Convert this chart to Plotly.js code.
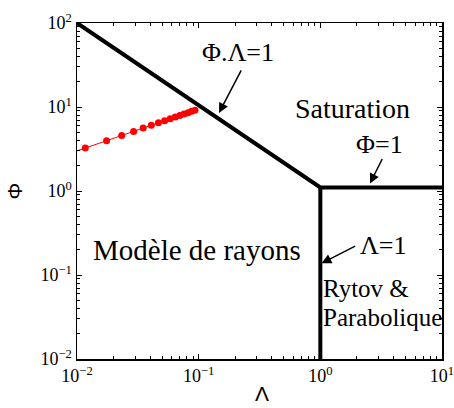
<!DOCTYPE html>
<html>
<head>
<meta charset="utf-8">
<script src="https://cdn.plot.ly/plotly-3.0.1.min.js"></script>
<style>html,body{margin:0;padding:0;background:#fff}#chart{width:454px;height:408px}</style>
</head>
<body>
<div id="chart"></div>
<script>
// Regime boundaries
var boundX = [0.01, 1, 10];
var boundY = [100, 1.1, 1.1];
var rytovX = [1, 1];
var rytovY = [1.1, 0.01];
// Measured points (Lambda, Phi)
var lambdaPts = [0.0117, 0.0175, 0.0233, 0.0292, 0.035, 0.0408, 0.0467, 0.0525, 0.0583, 0.0642, 0.07, 0.0758, 0.0817, 0.0875, 0.0933];
var phiPts = [3.24, 3.97, 4.58, 5.12, 5.61, 6.06, 6.48, 6.87, 7.24, 7.6, 7.94, 8.26, 8.57, 8.87, 9.16];
// Trend line
var trendX = [0.01, 0.0933];
var trendY = [3.0, 9.16];
// Ticks
var xTickVals = [0.01, 0.1, 1, 10];
var xTickText = ['10<sup>\u22122</sup>', '10<sup>\u22121</sup>', '10<sup>0</sup>', '10<sup>1</sup>'];
var yTickVals = [0.01, 0.1, 1, 10, 100];
var yTickText = ['10<sup>\u22122</sup>', '10<sup>\u22121</sup>', '10<sup>0</sup>', '10<sup>1</sup>', '10<sup>2</sup>'];

function minors(lo, hi) {
  var out = [];
  for (var e = lo; e < hi; e++) for (var m = 2; m <= 9; m++) out.push(m * Math.pow(10, e));
  return out;
}

var serif = 'Liberation Serif, Times New Roman, serif';
var sans = 'Liberation Sans, Arial, sans-serif';

var traces = [
  {x: boundX, y: boundY, mode: 'lines', line: {color: 'black', width: 4}, hoverinfo: 'skip'},
  {x: rytovX, y: rytovY, mode: 'lines', line: {color: 'black', width: 4}, hoverinfo: 'skip'},
  {x: trendX, y: trendY, mode: 'lines', line: {color: 'red', width: 1}, hoverinfo: 'skip'},
  {x: lambdaPts, y: phiPts, mode: 'markers', marker: {color: 'red', size: 7}}
];

function axisBase() {
  return {
    type: 'log', showgrid: false, zeroline: false,
    showline: true, linecolor: 'black', linewidth: 1.5, mirror: 'allticks',
    ticks: 'inside', ticklen: 5, tickwidth: 1, tickcolor: 'black',
    tickmode: 'array', ticklabeloverflow: 'allow',
    tickfont: {family: serif, size: 18, color: 'black'},
    minor: {ticks: 'inside', ticklen: 3, tickwidth: 1, tickcolor: 'black'}
  };
}
var xa = axisBase();
xa.range = [-2, 1]; xa.tickvals = xTickVals; xa.ticktext = xTickText;
xa.minor.tickvals = minors(-2, 1);
var ya = axisBase();
ya.range = [-2, 2]; ya.tickvals = yTickVals; ya.ticktext = yTickText;
ya.minor.tickvals = minors(-2, 2);
ya.title = {text: '\u03A6', font: {family: sans, size: 21, color: 'black'}, standoff: 12};

function txt(t, lx, ly, size, xanchor) {
  return {x: lx, y: ly, xref: 'x', yref: 'y', text: t, showarrow: false,
    xanchor: xanchor || 'center', yanchor: 'middle',
    font: {family: serif, size: size, color: 'black'}};
}
function arr(lx, ly, ax, ay) {
  return {x: lx, y: ly, xref: 'x', yref: 'y', text: '', showarrow: true,
    ax: ax, ay: ay, arrowhead: 2, arrowsize: 1.3, arrowwidth: 1.5, arrowcolor: 'black'};
}

var layout = {
  width: 454, height: 408,
  margin: {l: 77, r: 12, t: 23, b: 49},
  paper_bgcolor: 'white', plot_bgcolor: 'white',
  showlegend: false,
  xaxis: xa, yaxis: ya,
  annotations: [
    txt('\u03A6.\u039B=1', -0.677, 1.643, 26),
    arr(-0.833, 0.929, 23, -44),
    txt('Saturation', 0.268, 0.988, 28),
    txt('\u03A6=1', 0.49, 0.548, 26),
    arr(0.408, 0.089, 13, -26),
    txt('\u039B=1', 0.523, -0.643, 26),
    arr(0.0107, -0.861, 35, -18),
    txt('Mod\u00E8le de rayons', -1.014, -0.702, 29),
    txt('Rytov &amp;', 0.005, -1.155, 25, 'left'),
    txt('Parabolique', 0.005, -1.5, 25, 'left'),
    {x: 0.507, y: -0.144, xref: 'paper', yref: 'paper', text: '\u039B', showarrow: false,
     xanchor: 'center', yanchor: 'bottom', font: {family: sans, size: 21, color: 'black'}}
  ]
};

Plotly.newPlot('chart', traces, layout, {staticPlot: true, displayModeBar: false});
</script>
</body>
</html>
